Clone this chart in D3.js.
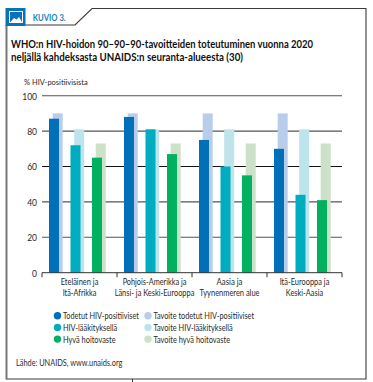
<!DOCTYPE html>
<html><head><meta charset="utf-8">
<script src="https://cdn.jsdelivr.net/npm/d3@7"></script>
<style>
html,body{margin:0;padding:0;background:#fff}
svg{display:block}
text{font-family:Lato,"Liberation Sans",sans-serif;fill:#2a2a2a}
</style></head><body>
<svg id="c" width="373" height="382"></svg>
<script>
const regions = [["Eteläinen ja","Itä-Afrikka"],["Pohjois-Amerikka ja","Länsi- ja Keski-Eurooppa"],["Aasia ja","Tyynenmeren alue"],["Itä-Eurooppa ja","Keski-Aasia"]];
const seriesNames = ["Todetut HIV-positiiviset","HIV-lääkityksellä","Hyvä hoitovaste"];
const targetNames = ["Tavoite todetut HIV-positiiviset","Tavoite HIV-lääkityksellä","Tavoite hyvä hoitovaste"];
const diagnosed = [87,88,75,70];
const onTreatment = [72,81,60,44];
const suppressed = [65,67,55,41];
const targets = [90,81,73];
const actualColors = ["#0070b8","#00adc0","#00b15f"];
const targetColors = ["#b9cdea","#bde4ea","#cde0c8"];
const yTicks = [0,20,40,60,80,100];
const actual = [diagnosed,onTreatment,suppressed];

const svg = d3.select("#c");
const y = d3.scaleLinear().domain([0,100]).range([272.7,95.7]);
const x0 = d3.scaleBand().domain(d3.range(regions.length)).range([42,342]);
const x1 = d3.scaleBand().domain(d3.range(3)).range([7,60]).paddingInner(0.535).paddingOuter(0).align(0);

function label(x,yy,str,size,width,opts={}){
  const t = svg.append("text").attr("x",x).attr("y",yy).attr("font-size",size).text(str);
  if(width){t.attr("textLength",width).attr("lengthAdjust","spacingAndGlyphs");}
  if(opts.anchor)t.attr("text-anchor",opts.anchor);
  if(opts.weight)t.attr("font-weight",opts.weight);
  if(opts.fill)t.style("fill",opts.fill);
  return t;
}

// frame
svg.append("path").attr("d","M6.5,379 H366 V8.5 H92 L75,25 H6.5")
  .attr("fill","none").attr("stroke","#3a3a3a").attr("stroke-width",1.1);
svg.append("path").attr("d","M6.5,25V379.5").attr("stroke","#777").attr("stroke-width",2);
svg.append("path").attr("d","M132.5,379V382").attr("stroke","#333").attr("stroke-width",1);

// header
svg.append("rect").attr("x",5.5).attr("y",8).attr("width",20).attr("height",18).attr("fill","#0a72b8");
svg.append("rect").attr("x",9.5).attr("y",11.5).attr("width",13).attr("height",11).attr("fill","none").attr("stroke","#fff").attr("stroke-width",1);
svg.append("path").attr("d","M10.5,22 L14,18 L16.5,19.5 L19,17 L22,22 Z").attr("fill","#fff");
label(32.7,20.5,"KUVIO 3.",8.5,33,{weight:700,fill:"#1f7fc0"});

// title
label(11,47.5,"WHO:n HIV-hoidon 90–90–90-tavoitteiden toteutuminen vuonna 2020",10.6,302,{weight:700,fill:"#111"});
label(11,60.5,"neljällä kahdeksasta UNAIDS:n seuranta-alueesta (30)",10.6,232,{weight:700,fill:"#111"});
label(24,85,"% HIV-positiivisista",8.4,63.7);

// grid
svg.append("g").selectAll("line").data(yTicks.filter(d=>d>0)).join("line")
  .attr("x1",42).attr("x2",342).attr("y1",d=>y(d)).attr("y2",d=>y(d))
  .attr("stroke",d=>d===60?"#111":"#555").attr("stroke-width",1.1);

// y axis
const yAxis = svg.append("g").attr("transform","translate(37,0.6)")
  .call(d3.axisLeft(y).tickValues(yTicks).tickSize(0).tickPadding(0));
yAxis.select(".domain").remove();
yAxis.selectAll("text").attr("font-size",8.5).style("font-family","Lato");

// bars: targets shifted slightly right behind actuals
const shift = 3.7;
const groups = svg.append("g").selectAll("g").data(regions).join("g")
  .attr("transform",(d,i)=>`translate(${x0(i)},0)`);
groups.each(function(_,i){
  const g = d3.select(this);
  g.selectAll("rect.t").data(targets).join("rect").attr("class","t")
    .attr("x",(d,k)=>x1(k)+shift).attr("width",x1.bandwidth())
    .attr("y",d=>y(d)).attr("height",d=>y(0)-y(d))
    .attr("fill",(d,k)=>targetColors[k]);
  g.selectAll("rect.a").data(actual.map(s=>s[i])).join("rect").attr("class","a")
    .attr("x",(d,k)=>x1(k)).attr("width",x1.bandwidth())
    .attr("y",d=>y(d)).attr("height",d=>y(0)-y(d))
    .attr("fill",(d,k)=>actualColors[k]);
});

// x axis
const xAxis = svg.append("g").attr("transform","translate(0,272.7)");
xAxis.append("line").attr("x1",42).attr("x2",342).attr("stroke","#333").attr("stroke-width",1);
xAxis.selectAll("line.tick").data(d3.range(regions.length+1)).join("line").attr("class","tick")
  .attr("x1",d=>42+d*x0.bandwidth()).attr("x2",d=>42+d*x0.bandwidth()).attr("y1",0).attr("y2",4.5)
  .attr("stroke","#333").attr("stroke-width",1);
const regionWidths = [[37.7,33.7],[63.7,79.7],[26,60],[49.7,37.3]];
regions.forEach((r,i)=>r.forEach((line,j)=>{
  label(x0(i)+x0.bandwidth()/2,284.5+j*11.2,line,8.5,regionWidths[i][j],{anchor:"middle"});
}));

// legend
const seriesWidths = [76,54.3,52.7];
const targetWidths = [100.7,79.3,76.7];
[[seriesNames,actualColors,57.5,seriesWidths],[targetNames,targetColors,148,targetWidths]].forEach(([names,cols,cx,widths])=>{
  names.forEach((name,i)=>{
    const yy = 315.7+i*11.7;
    svg.append("circle").attr("cx",cx).attr("cy",yy).attr("r",3.7).attr("fill",cols[i]);
    label(cx+5.4,yy+3.4,name,8.5,widths[i]);
  });
});

// source
label(16,366,"Lähde: UNAIDS, www.unaids.org",8.5,106.3);
</script>
</body></html>
